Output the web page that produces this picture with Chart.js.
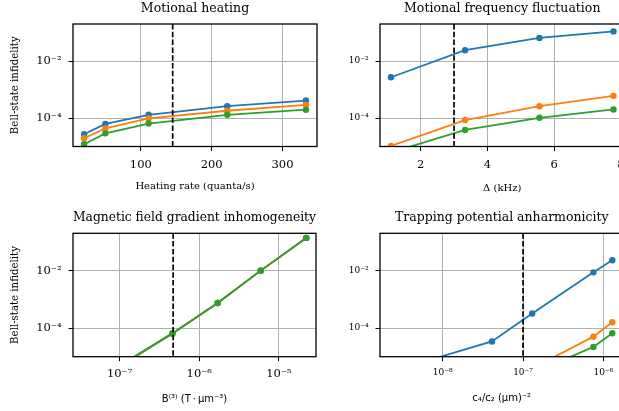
<!DOCTYPE html>
<html><head><meta charset="utf-8">
<script src="https://cdn.jsdelivr.net/npm/chart.js@4.4.1/dist/chart.umd.min.js"></script>
<style>
html,body{margin:0;padding:0;background:#fff;overflow:hidden;width:619px;height:411px;position:relative}
canvas{position:absolute;left:0;top:0}
</style></head><body>
<canvas id="c1" width="640" height="411" style="width:640px;height:411px"></canvas>
<canvas id="c2" width="640" height="411" style="width:640px;height:411px"></canvas>
<canvas id="c3" width="640" height="411" style="width:640px;height:411px"></canvas>
<canvas id="c4" width="640" height="411" style="width:640px;height:411px"></canvas>
<script>
// ---------- data ----------
const heatRate   = [20, 50, 111, 222, 333];
const heatBlue   = [2.7e-5, 6.2e-5, 1.3e-4, 2.6e-4, 4.1e-4];
const heatOrange = [1.95e-5, 4.3e-5, 9.7e-5, 1.8e-4, 2.9e-4];
const heatGreen  = [1.2e-5, 2.9e-5, 6.4e-5, 1.3e-4, 1.96e-4];
const heatTicks  = [100, 200, 300];
const heatMark   = 145;

const detuning   = [1.11, 3.33, 5.56, 7.78];
const freqBlue   = [2.7e-3, 0.024, 0.065, 0.11];
const freqOrange = [1.05e-5, 8.5e-5, 2.6e-4, 6.0e-4];
const freqGreen  = [6.2e-6, 3.8e-5, 1.02e-4, 2.0e-4];
const freqTicks  = [2, 4, 6, 8];
const freqMark   = 3.0;

const gradient   = [3.3e-8, 1.23e-7, 4.6e-7, 1.7e-6, 5.9e-6, 2.2e-5];
const gradBlue   = [2.8e-7, 6.4e-6, 6.5e-5, 7.4e-4, 0.010, 0.138];
const gradOrange = [2.9e-7, 6.6e-6, 6.5e-5, 7.4e-4, 0.010, 0.138];
const gradGreen  = [3.0e-7, 7.0e-6, 6.5e-5, 7.4e-4, 0.010, 0.138];
const gradTicks  = [1e-7, 1e-6, 1e-5];
const gradMark   = 4.7e-7;

const anharm     = [2.3e-9, 4.1e-8, 1.3e-7, 7.5e-7, 1.29e-6];
const anhBlue    = [3.1e-6, 3.4e-5, 3.2e-4, 8.7e-3, 0.023];
const anhOrange  = [1e-8, 1.5e-7, 3.9e-6, 5.0e-5, 1.58e-4];
const anhGreen   = [5e-9, 9e-8, 2.6e-6, 2.2e-5, 6.6e-5];
const anhTicks   = [1e-8, 1e-7, 1e-6];
const anhMark    = 1.0e-7;

const yTicks = [1e-4, 1e-2];
const yMin = 1e-5, yMax = 0.2;

// ---------- helpers ----------
const SUP = {'-':'\u207B','0':'\u2070','1':'\u00B9','2':'\u00B2','3':'\u00B3','4':'\u2074','5':'\u2075','6':'\u2076','7':'\u2077','8':'\u2078','9':'\u2079'};
function pow10Label(v){
  const e = Math.round(Math.log10(v));
  return '10' + String(e).split('').map(c=>SUP[c]).join('');
}
const BLUE='#1f77b4', ORANGE='#ff7f0e', GREEN='#2ca02c';
function ds(xs, ys, color, order){
  return {data: xs.map((x,i)=>({x:x,y:ys[i]})), borderColor:color, backgroundColor:color,
    borderWidth:1.8, pointRadius:3.2, pointBorderWidth:0, pointHoverRadius:3.2, tension:0,
    clip:0, order:order};
}
const framePlugin = {
  id:'frame',
  afterDatasetsDraw(chart){
    const {ctx, chartArea:a} = chart;
    const mark = chart.options.plugins.frame.mark;
    const px = chart.scales.x.getPixelForValue(mark);
    ctx.save();
    ctx.beginPath(); ctx.rect(a.left,a.top,a.right-a.left,a.bottom-a.top); ctx.clip();
    ctx.strokeStyle='#000'; ctx.lineWidth=1.7; ctx.setLineDash([5.5,2.3]);
    ctx.beginPath(); ctx.moveTo(px,a.top); ctx.lineTo(px,a.bottom); ctx.stroke();
    ctx.restore();
  },
  afterDraw(chart){
    const {ctx, chartArea:a} = chart;
    ctx.save(); ctx.strokeStyle='#000'; ctx.lineWidth=1.3; ctx.setLineDash([]);
    ctx.strokeRect(a.left,a.top,a.right-a.left,a.bottom-a.top);
    ctx.restore();
  }
};

function make(id, p){
  const serif = 'DejaVu Serif';
  new Chart(document.getElementById(id), {
    type:'line',
    data:{datasets:[ds(p.x,p.b,BLUE,3), ds(p.x,p.o,ORANGE,2), ds(p.x,p.g,GREEN,1)]},
    plugins:[framePlugin],
    options:{
      responsive:false, animation:false, devicePixelRatio:1,
      layout:{padding:p.pad},
      plugins:{
        legend:{display:false}, tooltip:{enabled:false},
        title:{display:true, text:p.title, fullSize:false, color:'#000',
          font:{family:serif,size:12.5,weight:'normal',lineHeight:1.2},
          padding:{top:0,bottom:8}},
        frame:{mark:p.mark}
      },
      scales:{
        x:{type:p.xtype, min:p.xmin, max:p.xmax,
          afterFit:s=>{s.height=50; s.paddingLeft=0; s.paddingRight=0;},
          afterBuildTicks:s=>{s.ticks=p.xt.map(v=>({value:v}));},
          ticks:{autoSkip:false, maxRotation:0, color:'#000', padding:p.xtpad,
            font:{family:serif,size:p.xfs},
            callback:(v)=> p.xtype==='logarithmic' ? pow10Label(v) : String(v)},
          grid:{color:'#b0b0b0', lineWidth:1, tickColor:'#000', tickLength:4.5, tickWidth:1},
          border:{display:false},
          title:{display:true, text:p.xlabel, color:'#000',
            font:{family:p.xlabelFont, size:10, lineHeight:1.2}, padding:{top:0,bottom:p.xlpad}}
        },
        y:{type:'logarithmic', min:yMin, max:yMax,
          afterFit:s=>{s.width=66; s.paddingTop=0; s.paddingBottom=0;},
          afterBuildTicks:s=>{s.ticks=yTicks.map(v=>({value:v}));},
          ticks:{autoSkip:false, color:'#000', padding:7, font:{family:serif,size:p.yfs},
            callback:(v)=>pow10Label(v)},
          grid:{color:'#b0b0b0', lineWidth:1, tickColor:'#000', tickLength:4.5, tickWidth:1},
          border:{display:false},
          title:{display:p.ylabel!=='', text:p.ylabel, color:'#000',
            font:{family:serif,size:10.2,lineHeight:1.2}, padding:{top:2,bottom:0}}
        }
      }
    }
  });
}

make('c1',{x:heatRate,b:heatBlue,o:heatOrange,g:heatGreen,title:'Motional heating',
  xtype:'linear',xmin:4.35,xmax:348.65,xt:heatTicks,mark:heatMark,xfs:11.5,yfs:11.5,xtpad:7,
  xlabel:'Heating rate (quanta/s)',xlabelFont:'DejaVu Serif',xlpad:4.5,ylabel:'Bell-state infidelity',
  pad:{left:7,right:323,top:1,bottom:214.5}});
make('c2',{x:detuning,b:freqBlue,o:freqOrange,g:freqGreen,title:'Motional frequency fluctuation',
  xtype:'linear',xmin:0.78,xmax:8.11,xt:freqTicks,mark:freqMark,xfs:11.5,yfs:9,xtpad:7,
  xlabel:'\u0394 (kHz)',xlabelFont:'DejaVu Serif',xlpad:2.5,ylabel:'',
  pad:{left:314,right:15.5,top:1,bottom:214.5}});
make('c3',{x:gradient,b:gradBlue,o:gradOrange,g:gradGreen,title:'Magnetic field gradient inhomogeneity',
  xtype:'logarithmic',xmin:Math.pow(10,-7.585),xmax:Math.pow(10,-4.535),xt:gradTicks,mark:gradMark,xfs:11.5,yfs:11.5,xtpad:6,
  xlabel:'B\u207D\u00B3\u207E (T\u2009\u00B7\u2009\u03BCm\u207B\u00B3)',xlabelFont:'DejaVu Sans',xlpad:1.7,ylabel:'Bell-state infidelity',
  pad:{left:7,right:324,top:210.3,bottom:4.3}});
make('c4',{x:anharm,b:anhBlue,o:anhOrange,g:anhGreen,title:'Trapping potential anharmonicity',
  xtype:'logarithmic',xmin:Math.pow(10,-8.78),xmax:Math.pow(10,-5.75),xt:anhTicks,mark:anhMark,xfs:9,yfs:9,xtpad:6,
  xlabel:'c\u2084/c\u2082 (\u03BCm)\u207B\u00B2',xlabelFont:'DejaVu Sans',xlpad:2.2,ylabel:'',
  pad:{left:314,right:16.5,top:210.3,bottom:4.3}});
</script>
</body></html>
